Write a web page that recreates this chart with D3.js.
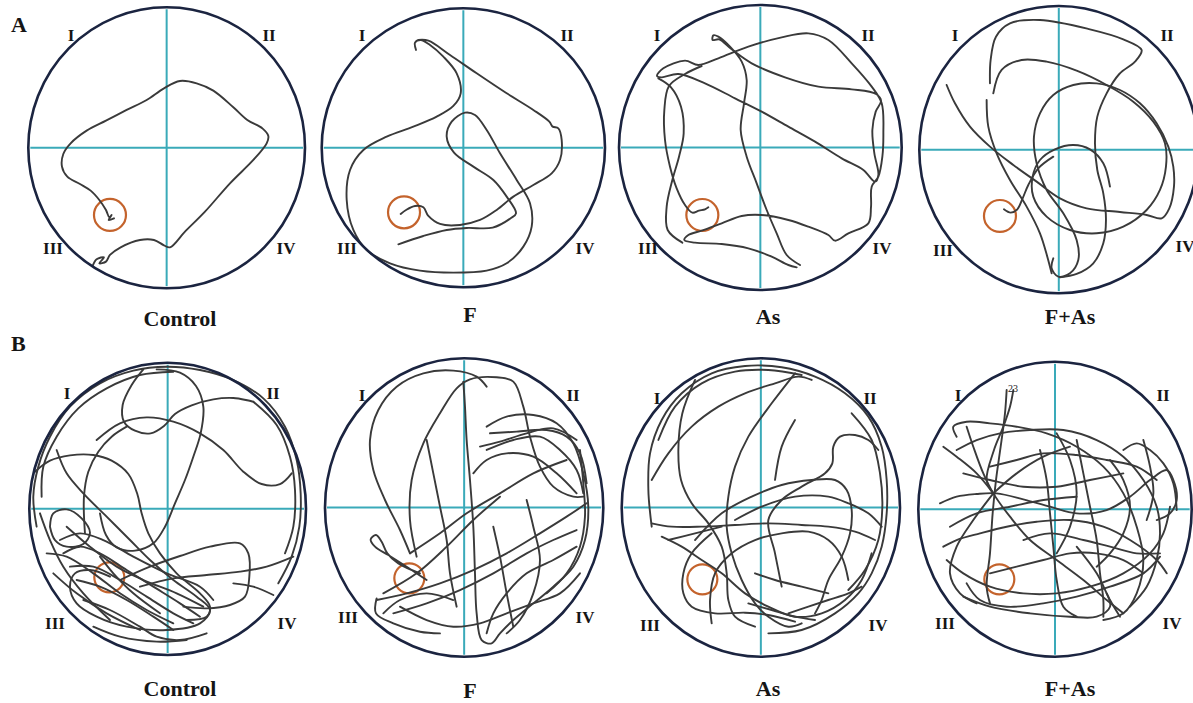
<!DOCTYPE html>
<html>
<head>
<meta charset="utf-8">
<script src="https://cdn.jsdelivr.net/npm/d3@7"></script>
<style>
  html, body { margin: 0; padding: 0; background: #fff; }
  svg { display: block; }
  .lbl { font-family: "Liberation Serif", "DejaVu Serif", serif; font-weight: bold; fill: #151515; }
</style>
</head>
<body>
<svg id="chart" width="1193" height="703"></svg>
<script>
const rows = ['A', 'B'];
const groups = ['Control', 'F', 'As', 'F+As'];
const quadrants = ['I', 'II', 'III', 'IV'];

// pool edges in tracker pixels: [left, right, top, bottom]
const frameA = [[85, 915, 22, 865], [65, 915, 25, 862], [72, 920, 15, 870], [88, 925, 18, 880]];
const frameB = [[88, 918, 68, 945], [75, 910, 55, 950], [80, 915, 55, 950], [85, 905, 65, 950]];

// hidden platform: [x, y, radius] in tracker pixels
const platformA = [[330, 645, 48], [312, 637, 48], [322, 645, 48], [330, 648, 48]];
const platformB = [[328, 712, 45], [328, 715, 45], [322, 718, 45], [328, 718, 45]];

// swim paths, tracker pixels, one list of segments per animal
const pathA_control = [
  [[278,798],[290,778],[312,772],[298,790],[318,785],[330,765],[362,742],[420,720],[462,720],[492,736],[510,742],[555,695],[615,635],[690,550],[760,480],[800,430],[805,408],[788,386],[742,360],[700,322],[640,272],[590,250],[540,243],[492,265],[440,300],[380,330],[318,362],[260,392],[212,430],[190,462],[186,500],[202,530],[240,552],[272,572],[298,600],[318,630],[328,652],[335,645],[326,660],[342,655]]
];
const pathA_F = [
  [[295,733],[370,708],[440,690],[500,684],[578,683],[632,655],[648,640],[620,590],[580,540],[520,500],[462,458],[440,410],[455,365],[495,338],[525,345],[560,390],[600,460],[650,540],[690,610],[695,680],[670,740],[620,790],[560,812],[460,818],[360,812],[270,790],[200,750],[160,690],[140,600],[150,510],[190,450],[260,410],[340,380],[410,350],[460,318],[482,280],[470,220],[430,170],[390,135],[362,120],[345,128],[348,150]],
  [[355,120],[385,122],[450,165],[530,220],[620,280],[700,330],[748,365],[758,380],[775,385],[785,420],[780,480],[755,520],[700,555],[640,590],[590,630],[540,660],[480,675],[420,672],[385,648],[370,622],[345,618],[318,630],[302,642]]
];
const pathA_As = [
  [[615,795],[575,765],[545,700],[515,630],[485,550],[455,470],[437,390],[447,310],[455,240],[440,185],[405,140],[370,110],[355,106],[353,120],[372,118],[410,148],[470,190],[570,232],[670,260],[770,268],[843,282],[858,302],[842,335],[832,390],[838,460],[850,525],[840,545],[805,510],[740,475],[660,425],[580,380],[500,335],[420,295],[330,250],[250,222],[200,232],[186,228],[205,205],[270,182],[310,195],[370,175],[460,140],[560,112],[640,100],[700,120],[770,190],[830,260],[860,310],[865,400],[862,470],[850,530],[830,560],[828,620],[820,670],[760,700],[720,722],[700,705],[640,680],[580,660],[500,645],[440,648],[380,670],[320,692],[280,705],[268,720],[300,728],[380,732],[460,745],[530,770],[580,795],[605,802]],
  [[320,198],[270,222],[222,258],[208,330],[210,420],[225,500],[245,565],[270,615],[292,638],[312,632],[330,628],[340,622]],
  [[190,235],[228,262],[258,320],[266,400],[252,470],[232,540],[215,620],[218,690],[262,728]]
];
const pathA_FAs = [
  [[170,255],[195,310],[240,380],[300,440],[370,495],[440,545],[510,595],[590,625],[690,636],[770,645],[815,655],[838,625],[852,560],[850,500],[835,440],[800,370],[750,310],[690,270],[620,250],[550,255],[490,285],[450,340],[432,410],[440,490],[470,570],[520,640],[560,720],[565,780],[540,820],[505,830],[485,805],[490,775]],
  [[300,250],[302,180],[318,110],[360,70],[450,60],[600,88],[700,118],[755,150],[735,185],[688,222],[650,280],[622,350],[615,430],[622,510],[640,580],[648,660],[640,730],[610,790],[560,822],[510,832]],
  [[290,300],[295,380],[320,460],[360,540],[410,620],[450,700],[472,770],[485,820]],
  [[310,280],[335,210],[395,180],[470,185],[560,212],[650,255],[730,305],[790,365],[825,430],[828,500],[810,570],[770,630],[700,680],[620,700],[540,690],[470,650],[430,590],[428,530],[450,480],[495,448],[550,435],[600,448],[640,490],[660,560]],
  [[342,628],[362,638],[382,628],[398,595],[415,555],[445,505],[490,470]]
];

const pathB_control = [
  [[110,560],[100,470],[115,380],[150,290],[210,200],[300,130],[400,92],[500,80],[600,90],[700,120],[790,175],[855,260],[890,360],[902,460],[898,560],[875,650],[835,730]],
  [[125,470],[130,380],[170,290],[235,205],[320,145],[420,105],[520,95]],
  [[760,185],[830,255],[870,350],[885,450],[880,560],[855,640]],
  [[430,88],[395,135],[368,195],[372,245],[405,272],[452,280],[492,258],[525,222],[575,196],[640,178],[700,174],[760,185]],
  [[470,88],[540,98],[588,138],[610,200],[602,280],[580,350],[555,420],[525,490],[495,560],[460,610],[405,632],[350,622],[318,585],[300,520]],
  [[290,300],[360,250],[440,232],[520,245],[600,280],[670,330],[730,395],[785,432],[840,432],[875,400]],
  [[105,395],[150,362],[210,346],[280,345],[335,362],[385,402],[412,462],[425,520],[445,580],[480,640],[530,700],[600,760],[630,800],[620,830],[560,840]],
  [[255,580],[252,470],[265,395],[295,335],[335,290],[380,260]],
  [[170,330],[200,400],[250,460],[320,530],[390,600],[450,660],[520,720],[590,770],[630,810],[600,850],[500,870],[380,860],[290,830],[230,790],[210,740],[225,700],[270,690],[330,710]],
  [[150,560],[160,520],[200,508],[245,535],[270,578],[250,612],[200,620],[165,600],[150,560]],
  [[190,640],[240,620],[300,640],[380,690],[460,740],[540,790],[600,830]],
  [[210,680],[280,680],[360,720],[440,770],[520,820],[580,850]],
  [[230,720],[300,740],[380,780],[460,830],[520,870]],
  [[250,780],[330,810],[420,860],[470,890],[540,900],[620,880]],
  [[180,600],[240,580],[310,600],[400,650],[500,700],[600,740],[640,780]],
  [[280,860],[360,890],[470,905],[560,900]],
  [[360,720],[450,680],[540,648],[630,620],[720,610],[745,640],[748,710],[735,770],[690,795],[620,805],[550,800]],
  [[420,740],[520,715],[620,705],[720,695],[800,680],[880,650]],
  [[700,730],[760,740],[820,765]],
  [[140,640],[200,650],[280,700],[360,760],[440,810],[520,850]],
  [[160,700],[230,760],[320,820],[420,870]],
  [[200,560],[270,620],[350,680],[430,720],[530,760],[610,800]],
  [[120,520],[150,600],[190,680],[250,760],[330,840]],
  [[300,650],[340,700],[400,760],[480,820]]
];
const pathB_F = [
  [[330,640],[300,570],[255,480],[220,390],[210,300],[235,210],[290,140],[370,100],[460,92],[530,110],[560,140]],
  [[350,650],[330,540],[335,420],[370,310],[420,220],[470,145],[510,118],[590,112],[640,125],[670,200],[690,290],[720,380],[760,440],[820,470],[850,470]],
  [[380,720],[320,680],[265,645],[225,620],[212,598],[228,585],[245,605],[262,640],[295,670],[360,700]],
  [[490,125],[495,200],[500,300],[510,420],[520,560],[525,700],[530,820],[545,900],[575,910],[600,880],[640,840],[700,790],[760,740],[820,680],[855,600],[865,500],[850,400],[820,310],[770,250],[700,225],[620,230],[560,260]],
  [[540,320],[600,305],[680,280],[760,265],[830,300]],
  [[570,280],[650,275],[740,270],[800,290],[840,340],[860,430]],
  [[560,330],[640,300],[720,290],[780,330],[830,390],[850,460]],
  [[520,400],[560,360],[620,340],[700,350],[770,400],[830,460]],
  [[230,780],[320,760],[420,730],[520,690],[620,640],[720,580],[800,530],[860,490]],
  [[280,820],[380,790],[480,750],[580,700],[680,640],[760,600],[830,570]],
  [[250,760],[350,700],[440,620],[520,540],[600,470]],
  [[330,640],[420,580],[500,520],[600,460],[700,400],[800,360]],
  [[580,560],[600,650],[620,760],[640,860]],
  [[680,480],[700,560],[720,660],[700,760],[660,840],[620,880]],
  [[230,775],[228,820],[280,850],[360,875],[420,880]],
  [[300,800],[380,840],[460,860],[540,850],[620,820],[700,790],[780,760],[840,700]],
  [[560,880],[580,820],[620,760],[680,700],[760,660],[830,620]],
  [[840,330],[850,430],[855,530],[840,620],[800,700],[740,760]],
  [[380,300],[400,400],[420,500],[440,600],[450,700],[470,800]],
  [[250,820],[300,780],[380,760],[460,780]]
];
const pathB_As = [
  [[170,560],[160,450],[165,340],[200,240],[260,160],[350,100],[450,78],[560,82],[660,110],[750,160],[820,230],[860,320],[875,420],[875,520],[860,620],[830,700],[790,760],[720,820],[620,870],[520,880]],
  [[190,300],[240,200],[320,130],[420,95],[520,90],[620,105]],
  [[770,220],[830,300],[855,400],[862,500],[850,600],[810,690],[760,750]],
  [[300,120],[262,220],[250,330],[258,420],[290,490],[340,550],[380,620],[395,700],[400,780],[420,830],[480,860]],
  [[170,420],[220,340],[290,260],[370,200],[450,160],[540,130],[610,110],[650,120]],
  [[600,100],[530,190],[460,290],[420,380],[400,470],[395,560],[410,640],[440,720],[480,790],[520,830],[580,860],[620,850]],
  [[170,550],[230,560],[320,560],[420,555],[520,550],[620,555],[700,560],[780,575],[840,600]],
  [[200,590],[260,620],[320,660],[380,700],[450,760],[520,800],[600,830],[680,820],[750,780],[800,720],[830,640]],
  [[300,600],[380,520],[470,470],[560,435],[650,420],[720,420],[755,450],[770,510],[765,580],[740,650],[700,720],[680,780],[660,820]],
  [[850,330],[820,300],[780,285],[735,290],[715,320],[712,370],[690,400],[620,440],[560,480],[520,540],[540,640],[560,740]],
  [[420,540],[500,500],[600,470],[700,470],[760,490],[820,520],[860,560]],
  [[350,580],[290,640],[265,700],[265,760],[290,800],[360,820],[450,818],[520,825],[600,845]],
  [[350,850],[345,780],[360,700],[410,640],[480,600],[560,580],[640,575],[700,600],[740,650],[760,720]],
  [[580,820],[640,800],[700,780],[760,760],[800,740]],
  [[460,790],[530,810],[600,830],[660,840]],
  [[220,600],[300,580],[380,560]],
  [[600,240],[560,320],[540,420]],
  [[480,700],[540,720],[620,740],[700,760]]
];
const pathB_FAs = [
  [[350,150],[345,220],[332,320],[318,420],[308,520],[300,640],[290,740],[300,790]],
  [[370,150],[360,200],[340,260],[312,330],[290,420],[310,460]],
  [[200,290],[190,260],[230,245],[300,250],[380,260],[470,280],[560,320],[640,380],[700,460],[740,560],[760,660],[740,760],[700,820],[640,840]],
  [[150,490],[200,470],[260,462],[320,460],[400,478],[480,500],[560,520],[650,510],[720,470],[780,420],[830,390],[850,420],[860,480],[840,520],[800,540]],
  [[200,330],[260,300],[330,280],[420,270],[520,270],[620,300],[700,350],[760,420],[800,500],[810,580],[800,660],[770,740],[720,800]],
  [[230,260],[250,320],[280,400],[310,460],[360,530],[420,600],[500,660],[580,720],[650,780],[700,820]],
  [[160,620],[200,600],[270,580],[350,560],[440,545],[540,540],[640,560],[720,600],[800,660],[830,700]],
  [[170,660],[220,700],[300,740],[400,760],[500,760],[600,740],[700,700],[780,640],[820,580],[840,500]],
  [[220,770],[300,800],[420,820],[540,830],[620,830],[660,800],[650,760]],
  [[230,730],[270,780],[350,800],[460,790],[560,770],[660,740],[760,700],[810,650]],
  [[450,330],[470,420],[480,520],[490,620],[500,720],[520,800],[560,830]],
  [[560,300],[580,400],[600,500],[620,600],[630,700],[640,780],[640,830]],
  [[300,380],[380,360],[460,340],[560,345],[650,360],[740,380],[800,420]],
  [[700,330],[740,310],[780,330],[820,370],[850,430],[860,510]],
  [[310,460],[250,540],[200,620],[180,700],[210,760],[260,790]],
  [[310,460],[380,400],[460,350],[540,320]],
  [[310,460],[260,400],[200,350],[160,320]],
  [[660,360],[700,420],[720,500],[700,580],[660,640],[620,680]],
  [[400,600],[480,580],[580,600],[660,620],[740,640],[810,640]],
  [[560,620],[620,700],[660,780],[690,830]],
  [[220,400],[300,420],[400,440],[500,440],[600,420],[700,400]],
  [[180,560],[260,520],[360,500],[460,480],[560,470]],
  [[500,280],[540,360],[560,460],[540,560],[500,640]],
  [[760,300],[780,380],[790,460],[770,540]],
  [[300,700],[380,680],[460,660],[540,640],[620,640],[700,660],[760,700]]
];

const pathsA = [pathA_control, pathA_F, pathA_As, pathA_FAs];
const pathsB = [pathB_control, pathB_F, pathB_As, pathB_FAs];

// ---- layout (screen px) ----
const poolBoxA = [[28.3, 305, 7.3, 288.3], [321.7, 605, 8.3, 287.3], [619, 901.7, 5, 290], [919.3, 1198.3, 6, 293.3]];
const poolBoxB = [[29.3, 306, 362.7, 655], [325, 603.3, 358.3, 656.7], [621.7, 900, 358.3, 656.7], [918.3, 1191.7, 361.7, 656.7]];
const numeralPosA = [
  [[71, 35], [269, 35], [53, 248], [286, 248]],
  [[362, 35], [567, 35], [347, 248], [585, 248]],
  [[657, 35], [868, 35], [648, 248], [882, 248]],
  [[955, 35], [1167, 35], [943, 250], [1185, 246]]
];
const numeralPosB = [
  [[67, 393], [273, 393], [55, 623], [287, 623]],
  [[362, 395], [573, 395], [348, 617], [585, 617]],
  [[657, 398], [870, 398], [650, 625], [878, 625]],
  [[958, 395], [1163, 395], [945, 623], [1172, 623]]
];
const captionPosA = [[180, 318], [470, 314], [768, 316], [1070, 316]];
const captionPosB = [[180, 688], [470, 690], [768, 688], [1070, 688]];

const svg = d3.select('#chart');

const drawPanel = (frame, box, platform, path, numeralPos, captionPos, caption) => {
  const x = d3.scaleLinear().domain([frame[0], frame[1]]).range([box[0], box[1]]);
  const y = d3.scaleLinear().domain([frame[2], frame[3]]).range([box[2], box[3]]);
  const g = svg.append('g');
  const cx = x((frame[0] + frame[1]) / 2);
  const cy = y((frame[2] + frame[3]) / 2);

  // quadrant cross
  g.append('line').attr('x1', cx).attr('x2', cx).attr('y1', box[2] + 2).attr('y2', box[3] - 2)
    .attr('stroke', '#3aaab9').attr('stroke-width', 2);
  g.append('line').attr('x1', box[0] + 2).attr('x2', box[1] - 2).attr('y1', cy).attr('y2', cy)
    .attr('stroke', '#3aaab9').attr('stroke-width', 2);

  // platform
  g.append('ellipse')
    .attr('cx', x(platform[0])).attr('cy', y(platform[1]))
    .attr('rx', x(platform[0] + platform[2]) - x(platform[0]))
    .attr('ry', y(platform[1] + platform[2]) - y(platform[1]))
    .attr('fill', 'none').attr('stroke', '#c4632c').attr('stroke-width', 2.2);

  const line = d3.line().x(d => x(d[0])).y(d => y(d[1])).curve(d3.curveCatmullRom.alpha(0.5));
  g.selectAll('path.track').data(path).enter().append('path')
    .attr('class', 'track')
    .attr('d', line)
    .attr('fill', 'none').attr('stroke', '#3a3a3a').attr('stroke-width', 1.9)
    .attr('stroke-linejoin', 'round').attr('stroke-linecap', 'round');

  // pool wall
  g.append('ellipse')
    .attr('cx', (box[0] + box[1]) / 2).attr('cy', (box[2] + box[3]) / 2)
    .attr('rx', (box[1] - box[0]) / 2).attr('ry', (box[3] - box[2]) / 2)
    .attr('fill', 'none').attr('stroke', '#1b2440').attr('stroke-width', 2.6);

  g.selectAll('text.num').data(quadrants).enter().append('text')
    .attr('class', 'lbl num')
    .attr('x', (d, i) => numeralPos[i][0]).attr('y', (d, i) => numeralPos[i][1])
    .attr('text-anchor', 'middle').attr('dominant-baseline', 'central')
    .attr('font-size', 17)
    .text(d => d);

  g.append('text').attr('class', 'lbl')
    .attr('x', captionPos[0]).attr('y', captionPos[1])
    .attr('text-anchor', 'middle').attr('dominant-baseline', 'central')
    .attr('font-size', 22)
    .text(caption);
};

groups.forEach((name, i) => {
  drawPanel(frameA[i], poolBoxA[i], platformA[i], pathsA[i], numeralPosA[i], captionPosA[i], name);
  drawPanel(frameB[i], poolBoxB[i], platformB[i], pathsB[i], numeralPosB[i], captionPosB[i], name);
});

svg.selectAll('text.row').data(rows).enter().append('text')
  .attr('class', 'lbl row')
  .attr('x', 11).attr('y', (d, i) => i === 0 ? 24 : 343)
  .attr('dominant-baseline', 'central')
  .attr('font-size', 22)
  .text(d => d);

// start marker printed in the last pool
svg.append('text')
  .attr('x', 1013).attr('y', 388)
  .attr('text-anchor', 'middle').attr('dominant-baseline', 'central')
  .attr('font-family', 'Liberation Serif, serif').attr('font-size', 10).attr('fill', '#222')
  .text('23');
</script>
</body>
</html>
